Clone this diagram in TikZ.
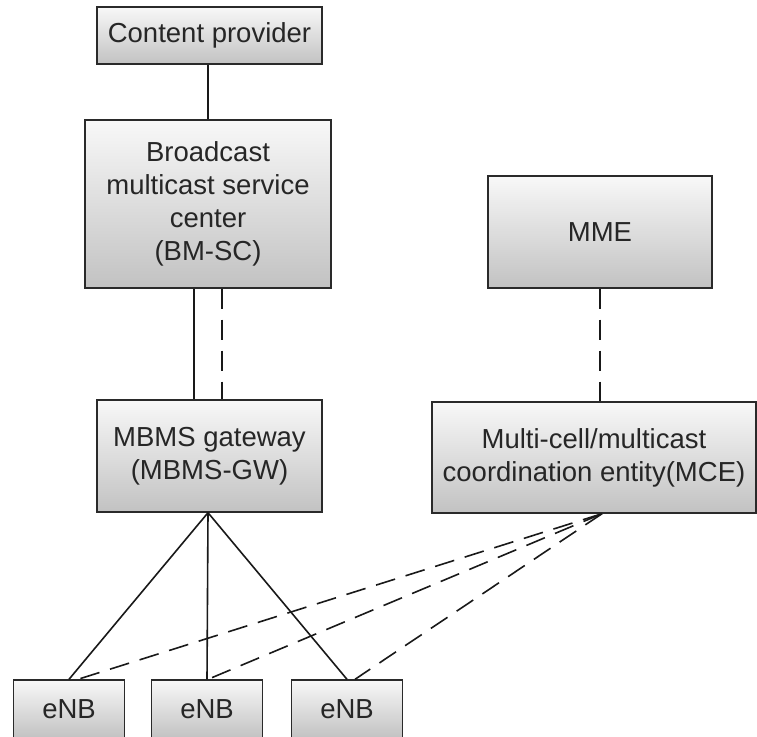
\documentclass[tikz,border=0pt]{standalone}
\usepackage{fontspec}
\setmainfont{Liberation Sans}
\usetikzlibrary{calc}
\definecolor{boxtop}{HTML}{F8F8F8}
\definecolor{boxbot}{HTML}{C2C2C2}
\definecolor{edge}{HTML}{2A2A2A}
\begin{document}
\begin{tikzpicture}[x=1pt,y=-1pt,
  box/.style={draw=edge, line width=1.4pt, top color=boxtop, bottom color=boxbot,
    align=center, inner sep=0pt, font=\fontsize{27.5}{33}\selectfont, text=black!85},
  conn/.style={line width=1.6pt, draw=black!90},
  dconn/.style={conn, dash pattern=on 20pt off 11pt}]
\useasboundingbox (0,0) rectangle (757,736);
\node[box, minimum width=225pt, minimum height=57pt] (cp) at (209.5,35.5) {Content provider};
\node[box, minimum width=246pt, minimum height=168pt] (bmsc) at (208,204) {Broadcast\\multicast service\\center\\(BM-SC)};
\node[box, minimum width=225pt, minimum height=112pt] (gw) at (209.5,456) {MBMS gateway\\(MBMS-GW)};
\node[box, minimum width=224pt, minimum height=112pt] (mme) at (600,232) {MME};
\node[box, minimum width=324pt, minimum height=111pt] (mce) at (594,457.5) {Multi-cell/multicast\\coordination entity(MCE)};
\node[box, minimum width=111pt, minimum height=58pt] (enb1) at (69,709) {eNB};
\node[box, minimum width=111pt, minimum height=58pt] (enb2) at (207,709) {eNB};
\node[box, minimum width=111pt, minimum height=58pt] (enb3) at (347,709) {eNB};
% connectors
\draw[conn] (bmsc.north) -- (bmsc.north |- cp.south);
\draw[conn] ([xshift=-14pt]bmsc.south) -- ([xshift=-14pt]bmsc.south |- gw.north);
\draw[dconn] ([xshift=14pt]bmsc.south) -- ([xshift=14pt]bmsc.south |- gw.north);
\draw[dconn] (mme.south) -- (mme.south |- mce.north);
\coordinate (gwp) at ([xshift=-1.5pt]gw.south);
\draw[conn] (gwp) -- (enb1.north);
\draw[conn] (gwp) -- (enb2.north);
\draw[conn] (gwp) -- (enb3.north);
\coordinate (mcep) at ([xshift=8pt]mce.south);
\draw[dconn] (mcep) -- ([xshift=9pt]enb1.north);
\draw[dconn] (mcep) -- ([xshift=1pt]enb2.north);
\draw[dconn] (mcep) -- ([xshift=8pt]enb3.north);
\end{tikzpicture}
\end{document}
